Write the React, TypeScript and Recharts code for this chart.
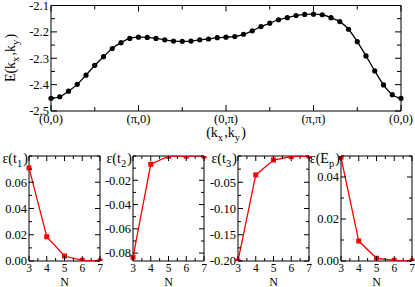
import React from "react";
import { LineChart, Line, XAxis, YAxis, ReferenceArea } from "recharts";

// dispersion along the path (0,0)-(pi,0)-(0,pi)-(pi,pi)-(0,0), 10 steps per leg
const energy = [
  -2.452, -2.446, -2.425, -2.399, -2.364, -2.327, -2.294, -2.263, -2.241, -2.225,
  -2.22, -2.221, -2.225, -2.23, -2.235, -2.236, -2.235, -2.23, -2.227, -2.222,
  -2.22, -2.218, -2.209, -2.196, -2.18, -2.167, -2.154, -2.146, -2.138, -2.134,
  -2.133, -2.135, -2.146, -2.161, -2.19, -2.237, -2.291, -2.348, -2.401, -2.438,
  -2.452,
];
const pathTicks = [0, 5, 10, 15, 20, 25, 30, 35, 40];
const pathLabels: Record<number, string> = { 0: "(0,0)", 10: "(π,0)", 20: "(0,π)", 30: "(π,π)", 40: "(0,0)" };
const energyTicks = [-2.5, -2.45, -2.4, -2.35, -2.3, -2.25, -2.2, -2.15, -2.1];
const energyMajor = [-2.5, -2.4, -2.3, -2.2, -2.1];

// errors vs cluster size N
const nValues = [3, 4, 5, 6, 7];
const errT1 = [0.0709, 0.0185, 0.0038, 0.0005, 0.0];
const errT2 = [-0.0834, -0.0068, -0.0002, -0.0001, 0.0];
const errT3 = [-0.2, -0.036, -0.0076, -0.001, 0.0];
const errEp = [0.0494, 0.0095, 0.0013, 0.0003, 0.0];
const nTicks = [3, 3.5, 4, 4.5, 5, 5.5, 6, 6.5, 7];

const FONT = '"Liberation Serif", "DejaVu Serif", serif';

type Box = { left: number; right: number; top: number; bottom: number };

function yTick(box: Box, majors: number[], fmt: (v: number) => string, major = 5, minor = 3) {
  return (props: any) => {
    const { y, payload } = props;
    const v = payload.value;
    const isMajor = majors.some((m) => Math.abs(m - v) < 1e-9);
    const len = isMajor ? major : minor;
    return (
      <g>
        <line x1={box.left} x2={box.left + len} y1={y} y2={y} stroke="#000" />
        <line x1={box.right - len} x2={box.right} y1={y} y2={y} stroke="#000" />
        {isMajor && (
          <text x={box.left - 2} y={y} dy="0.34em" textAnchor="end" style={{ fontFamily: FONT, fontSize: 12.5 }} fill="#000">
            {fmt(v)}
          </text>
        )}
      </g>
    );
  };
}

function xTick(box: Box, label: (v: number) => string, major = 5, minor = 3, gap = 10.5, size = 12.5) {
  return (props: any) => {
    const { x, payload } = props;
    const text = label(payload.value);
    const len = text ? major : minor;
    return (
      <g>
        <line x1={x} x2={x} y1={box.bottom} y2={box.bottom - len} stroke="#000" />
        <line x1={x} x2={x} y1={box.top} y2={box.top + len} stroke="#000" />
        {text && (
          <text x={x} y={box.bottom + gap} textAnchor="middle" style={{ fontFamily: FONT, fontSize: size }} fill="#000">
            {text}
          </text>
        )}
      </g>
    );
  };
}

function Square(props: any) {
  const { cx, cy, index } = props;
  if (cx == null || cy == null) return null;
  return <rect key={index} x={cx - 2.5} y={cy - 2.5} width={5} height={5} fill="#ff0000" />;
}

function TopChart() {
  const data = energy.map((e, i) => ({ k: i, e }));
  const W = 415;
  const H = 145;
  // axes get 1px each (a zero-size axis is not drawn)
  const m = { top: 5.5, right: 14, bottom: 33, left: 50 };
  const box = { left: m.left + 1, right: W - m.right, top: m.top, bottom: H - m.bottom - 1 };
  return (
    <LineChart width={W} height={H} data={data} margin={m}>
      <ReferenceArea x1={0} x2={40} y1={-2.5} y2={-2.1} fill="none" stroke="#000" strokeWidth={1} ifOverflow="visible" />
      <XAxis
        type="number"
        dataKey="k"
        domain={[0, 40]}
        ticks={pathTicks}
        interval={0}
        height={1}
        axisLine={false}
        tickLine={false}
        tick={xTick(box, (v) => pathLabels[v] ?? "", 6, 4, 11.5)}
      />
      <YAxis
        type="number"
        domain={[-2.5, -2.1]}
        ticks={energyTicks}
        interval={0}
        width={1}
        axisLine={false}
        tickLine={false}
        tick={yTick(box, energyMajor, (v) => v.toFixed(1), 6, 4)}
      />
      <Line
        type="monotone"
        dataKey="e"
        stroke="#000"
        strokeWidth={1.3}
        dot={{ r: 2.6, fill: "#000", stroke: "none" }}
        isAnimationActive={false}
      />
    </LineChart>
  );
}

function ErrPanel({
  values,
  domain,
  ticks,
  majors,
  left,
}: {
  values: number[];
  domain: [number, number];
  ticks: number[];
  majors: number[];
  left: number;
}) {
  const data = nValues.map((n, i) => ({ n, v: values[i] }));
  const plotW = 71;
  const m = { top: 6, right: 4, bottom: 25, left: 29 };
  const W = m.left + 1 + plotW + m.right;
  const H = 137;
  const box = { left: m.left + 1, right: m.left + 1 + plotW, top: m.top, bottom: H - m.bottom - 1 };
  return (
    <div style={{ position: "absolute", left: left - m.left - 1, top: 150 }}>
      <LineChart width={W} height={H} data={data} margin={m}>
        <ReferenceArea x1={3} x2={7} y1={domain[0]} y2={domain[1]} fill="none" stroke="#000" ifOverflow="visible" />
        <XAxis
          type="number"
          dataKey="n"
          domain={[3, 7]}
          ticks={nTicks}
          interval={0}
          height={1}
          axisLine={false}
          tickLine={false}
          tick={xTick(box, (v) => (Number.isInteger(v) ? String(v) : ""), 5, 3, 11, 11.5)}
        />
        <YAxis
          type="number"
          domain={domain}
          ticks={ticks}
          interval={0}
          width={1}
          axisLine={false}
          tickLine={false}
          allowDataOverflow
          tick={yTick(box, majors, (v) => v.toFixed(2))}
        />
        <Line
          type="linear"
          dataKey="v"
          stroke="#ff0000"
          strokeWidth={1.3}
          dot={<Square />}
          isAnimationActive={false}
        />
      </LineChart>
    </div>
  );
}

function Sub({ children }: { children: string }) {
  return (
    <>
      <tspan dy={3.5} fontSize="75%">
        {children}
      </tspan>
      <tspan dy={-3.5}>{"\u200a"}</tspan>
    </>
  );
}

export default function App() {
  const panelLefts = [29, 133, 238, 341];
  return (
    <div style={{ position: "relative", width: 415, height: 287, background: "#fff", fontFamily: FONT }}>
      <style>{'body{margin:0} svg text{font-family:"Liberation Serif","DejaVu Serif",serif}'}</style>
      <div style={{ position: "absolute", left: 0, top: 0 }}>
        <TopChart />
      </div>
      <ErrPanel
        values={errT1}
        domain={[0, 0.08]}
        ticks={[0, 0.01, 0.02, 0.03, 0.04, 0.05, 0.06, 0.07, 0.08]}
        majors={[0, 0.02, 0.04, 0.06]}
        left={panelLefts[0]}
      />
      <ErrPanel
        values={errT2}
        domain={[-0.0865, 0]}
        ticks={[-0.08, -0.07, -0.06, -0.05, -0.04, -0.03, -0.02, -0.01, 0]}
        majors={[-0.08, -0.06, -0.04, -0.02]}
        left={panelLefts[1]}
      />
      <ErrPanel
        values={errT3}
        domain={[-0.2, 0]}
        ticks={[-0.2, -0.175, -0.15, -0.125, -0.1, -0.075, -0.05, -0.025, 0]}
        majors={[-0.2, -0.15, -0.1, -0.05]}
        left={panelLefts[2]}
      />
      <ErrPanel
        values={errEp}
        domain={[0, 0.05]}
        ticks={[0, 0.01, 0.02, 0.03, 0.04, 0.05]}
        majors={[0, 0.02, 0.04]}
        left={panelLefts[3]}
      />
      <svg width={415} height={287} style={{ position: "absolute", left: 0, top: 0, pointerEvents: "none" }}>
        <g fill="#000">
          <text transform="translate(15,58) rotate(-90)" textAnchor="middle" fontSize={14}>
            E(k<Sub>x</Sub>,k<Sub>y</Sub>)
          </text>
          <text x={226} y={137} textAnchor="middle" fontSize={14}>
            (k<Sub>x</Sub>,k<Sub>y</Sub>)
          </text>
          <text x={panelLefts[0] - 1} y={163} textAnchor="end" fontSize={14}>
            ε(t<Sub>1</Sub>)
          </text>
          <text x={panelLefts[1] - 1} y={163} textAnchor="end" fontSize={14}>
            ε(t<Sub>2</Sub>)
          </text>
          <text x={panelLefts[2] - 1} y={163} textAnchor="end" fontSize={14}>
            ε(t<Sub>3</Sub>)
          </text>
          <text x={panelLefts[3] - 1} y={163} textAnchor="end" fontSize={14}>
            ε(E<Sub>p</Sub>)
          </text>
          {panelLefts.map((l) => (
            <text key={l} x={l + 35.5} y={285.5} textAnchor="middle" fontSize={12}>
              N
            </text>
          ))}
        </g>
      </svg>
    </div>
  );
}
